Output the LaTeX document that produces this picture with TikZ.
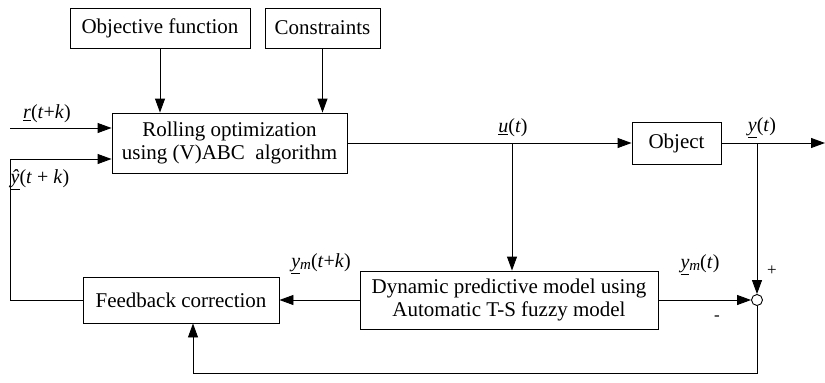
\documentclass[tikz,border=0pt]{standalone}
\usepackage{fontspec}
\setmainfont{Liberation Serif}
\usetikzlibrary{arrows.meta}
\begin{document}
\begin{tikzpicture}[x=1pt,y=-1pt,
  line width=0.9pt,
  blk/.style={draw, line width=0.9pt, minimum height=#1, inner sep=0pt, align=center,
              font=\fontsize{21}{23}\selectfont},
  blk/.default=40pt,
  lbl/.style={inner sep=0pt, font=\fontsize{20}{22}\selectfont},
  sig/.style={-{Triangle[length=14pt,width=10pt]}},
  wire/.style={line width=0.9pt}]
\useasboundingbox (0,0) rectangle (825,383);

% blocks
\node[blk=40pt, minimum width=180pt] (obj) at (160,28) {Objective function};
\node[blk=40pt, minimum width=115pt] (con) at (322.5,28) {Constraints};
\node[blk=60pt, minimum width=235pt] (roll) at (229.5,143) {Rolling optimization\\using (V)ABC\ \ algorithm};
\node[blk=42pt, minimum width=89pt] (plant) at (676.5,143) {Object};
\node[blk=58pt, minimum width=298pt] (dyn) at (509,300) {Dynamic predictive model using\\Automatic T-S fuzzy model};
\node[blk=46pt, minimum width=196pt] (fb) at (181,300) {Feedback correction};
\node[draw, circle, minimum size=11pt, inner sep=0pt, fill=white] (sum) at (757,300) {};

% junction points and free ends
\coordinate (rin) at (10,128);
\coordinate (yin) at (10,159);
\coordinate (ub) at (512,143);
\coordinate (yb) at (757,143);
\coordinate (yout) at (825,143);
\coordinate (fbl) at (10,300);
\coordinate (lowr) at (757,373);
\coordinate (lowl) at (193,373);

% connectors
\draw[sig] (obj.south) -- (obj.south |- roll.north);
\draw[sig] (con.south) -- (con.south |- roll.north);
\draw[sig] (rin) -- (rin -| roll.west);
\draw[sig] (fb.west) -- (fbl) -- (yin) -- (yin -| roll.west);
\draw[sig] (roll.east) -- (plant.west);
\draw[sig] (plant.east) -- (yout);
\draw[sig] (ub) -- (ub |- dyn.north);
\draw[sig] (yb) -- (sum.north);
\draw[sig] (dyn.east) -- (sum.west);
\draw[sig] (dyn.west) -- (fb.east);
\draw[sig] (sum.south) -- (lowr) -- (lowl) -- (lowl |- fb.south);

% signal labels
\node[lbl] (lr) at (47,114) {\underline{\textit{r}}(\textit{t}+\textit{k})};
\node[lbl] (ly) at (40,180) {\underline{\textit{ŷ}}(\textit{t} + \textit{k})};
\node[lbl] (lu) at (513,128) {\underline{\textit{u}}(\textit{t})};
\node[lbl] (lyt) at (762,128) {\underline{\textit{y}}(\textit{t})};
\node[lbl] (lym) at (321,264) {\underline{\textit{y}}\raisebox{-2pt}{\fontsize{15}{16}\selectfont\textit{m}}(\textit{t}+\textit{k})};
\node[lbl] (lymt) at (700,265) {\underline{\textit{y}}\raisebox{-2pt}{\fontsize{15}{16}\selectfont\textit{m}}(\textit{t})};
\node[lbl, font=\fontsize{17}{18}\selectfont] (plus) at (772,271) {+};
\node[lbl, font=\fontsize{17}{18}\selectfont] (minus) at (717,318) {-};
\end{tikzpicture}
\end{document}
